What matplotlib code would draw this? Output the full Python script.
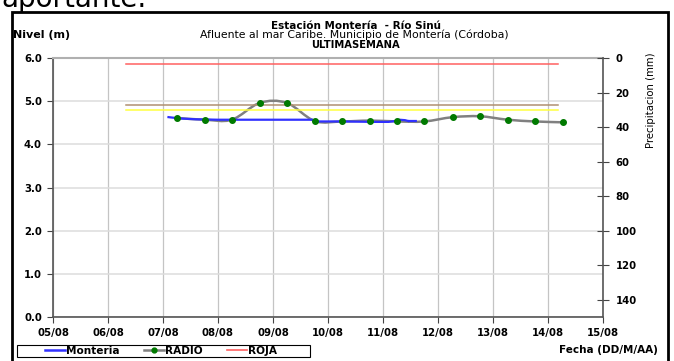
import matplotlib.pyplot as plt
from matplotlib.path import Path
from matplotlib.patches import PathPatch
from matplotlib.lines import Line2D
import numpy as np

plt.rcParams['font.family'] = ['DejaVu Sans']

# days since 05/08 00:00
day_labels = ['05/08', '06/08', '07/08', '08/08', '09/08', '10/08',
              '11/08', '12/08', '13/08', '14/08', '15/08']

radio_t = [2.26, 2.76, 3.25, 3.76, 4.25, 4.76, 5.26, 5.76, 6.26, 6.75,
           7.27, 7.76, 8.27, 8.76, 9.27]
radio_v = [4.61, 4.57, 4.57, 4.96, 4.96, 4.54, 4.53, 4.55, 4.53, 4.53,
           4.63, 4.65, 4.57, 4.53, 4.51]

monteria_t = [2.10, 2.30, 2.60, 3.00, 3.50, 4.00, 4.50, 4.72, 4.80, 5.30,
              5.80, 6.10, 6.22, 6.30, 6.40, 6.46]
monteria_v = [4.63, 4.60, 4.58, 4.57, 4.57, 4.57, 4.57, 4.57, 4.53, 4.53,
              4.52, 4.52, 4.54, 4.57, 4.56, 4.54]
monteria_tail_t = [6.46, 6.62]
monteria_tail_v = [4.54, 4.54]

thr_t = [1.33, 9.18]
roja = 5.86
naranja = 4.91
amarilla = 4.80

W, H = 674.0, 361.0


def fx(px):
    return px / W


def fy(py):
    return 1 - py / H


fig = plt.figure(figsize=(6.74, 3.61), dpi=100)
fig.patches.append(plt.Rectangle((fx(12), -0.1), fx(656), fy(12) + 0.1,
                                 transform=fig.transFigure, fill=False,
                                 edgecolor='black', linewidth=2.0))
fig.text(fx(1), fy(7), 'aportante.', fontsize=20, va='baseline', ha='left')

ax = fig.add_axes([fx(53), fy(317), 550 / W, 259 / H])
ax.set_xlim(0, 10)
ax.set_ylim(0, 6)

ax.set_yticks(np.arange(0, 6.1, 1.0))
ax.set_yticklabels(['%.1f' % v for v in np.arange(0, 6.1, 1.0)],
                   fontsize=7.3, fontweight='bold')
ax.set_xticks(range(11))
ax.set_xticklabels(day_labels, fontsize=7.3, fontweight='bold')
ax.tick_params(axis='both', length=4, width=0.8, color='#444444', pad=4)
ax.yaxis.grid(True, color='#dcdcdc', linewidth=1.1)
ax.xaxis.grid(True, color='#c4c4c4', linewidth=0.9)
ax.set_axisbelow(True)
for s in ['left', 'bottom']:
    ax.spines[s].set_color('#555555')
    ax.spines[s].set_linewidth(1.2)
ax.spines['top'].set_color('#b0b0b0')
ax.spines['top'].set_linewidth(1.5)
ax.spines['right'].set_visible(False)

# threshold lines
ax.plot(thr_t, [roja, roja], color='#ff6060', linewidth=1.1)
ax.plot(thr_t, [naranja, naranja], color='#b09070', linewidth=1.1)
ax.plot(thr_t, [amarilla, amarilla], color='#ffff40', linewidth=1.1)

# Monteria sensor
ax.plot(monteria_t, monteria_v, color='#3030ff', linewidth=1.6)
ax.plot(monteria_tail_t, monteria_tail_v, color='#3030ff', linewidth=1.6,
        dashes=(4, 3))

# RADIO readings, smooth curve (Catmull-Rom as cubic Bezier)
px = np.array(radio_t)
py = np.array(radio_v)
verts = [(px[0], py[0])]
codes = [Path.MOVETO]
for i in range(len(px) - 1):
    p0 = (px[max(i - 1, 0)], py[max(i - 1, 0)])
    p1 = (px[i], py[i])
    p2 = (px[i + 1], py[i + 1])
    p3 = (px[min(i + 2, len(px) - 1)], py[min(i + 2, len(px) - 1)])
    c1 = (p1[0] + (p2[0] - p0[0]) / 6, p1[1] + (p2[1] - p0[1]) / 6)
    c2 = (p2[0] - (p3[0] - p1[0]) / 6, p2[1] - (p3[1] - p1[1]) / 6)
    verts += [c1, c2, p2]
    codes += [Path.CURVE4] * 3
ax.add_patch(PathPatch(Path(verts, codes), facecolor='none',
                       edgecolor='#808080', linewidth=1.8))
ax.plot(radio_t, radio_v, linestyle='none', marker='o', markersize=4,
        color='#007a00')

# precipitation axis
ax2 = ax.twinx()
ax2.set_ylim(150, 0)
ax2.set_yticks(range(0, 141, 20))
ax2.set_yticklabels([str(v) for v in range(0, 141, 20)], fontsize=7.3,
                    fontweight='bold')
ax2.tick_params(axis='y', direction='inout', length=8, width=0.8,
                color='#444444', pad=5)
for s in ['left', 'top', 'bottom']:
    ax2.spines[s].set_visible(False)
ax2.spines['right'].set_color('#555555')
ax2.spines['right'].set_linewidth(1.2)

# titles
fig.text(fx(356), fy(29), 'Estación Montería  - Río Sinú', ha='center',
         va='baseline', fontsize=7.5, fontweight='bold')
fig.text(fx(354), fy(38.5),
         'Afluente al mar Caribe. Municipio de Montería (Córdoba)',
         ha='center', va='baseline', fontsize=7.8)
fig.text(fx(355), fy(47.5), 'ULTIMASEMANA', ha='center',
         va='baseline', fontsize=7.2, fontweight='bold')
fig.text(fx(13), fy(38), 'Nivel (m)', ha='left', va='baseline',
         fontsize=8, fontweight='bold')
fig.text(fx(651), fy(100), 'Precipitacion (mm)', rotation=90,
         ha='center', va='center', fontsize=7.3)
fig.text(fx(658), fy(353), 'Fecha (DD/M/AA)', ha='right',
         va='baseline', fontsize=7.5, fontweight='bold')

# legend
fig.patches.append(plt.Rectangle((fx(17), fy(357)), fx(293), 12 / H,
                                 transform=fig.transFigure, fill=False,
                                 edgecolor='black', linewidth=0.8))
h1 = Line2D([], [], color='#3030ff', linewidth=1.8)
h2 = Line2D([], [], color='#808080', linewidth=1.8, marker='o',
            markersize=3.5, markerfacecolor='#007a00',
            markeredgecolor='#007a00')
h3 = Line2D([], [], color='#ff6060', linewidth=1.2)
leg = fig.legend([h1, h2, h3], ['Monteria', 'RADIO', 'ROJA'], ncol=3,
                 loc='center left', bbox_to_anchor=(fx(45), fy(351)),
                 prop={'size': 7.6, 'weight': 'bold'}, frameon=False,
                 borderpad=0, handlelength=1.9, handletextpad=0.1,
                 columnspacing=2.3, borderaxespad=0)

fig.savefig('out.png', dpi=100)
